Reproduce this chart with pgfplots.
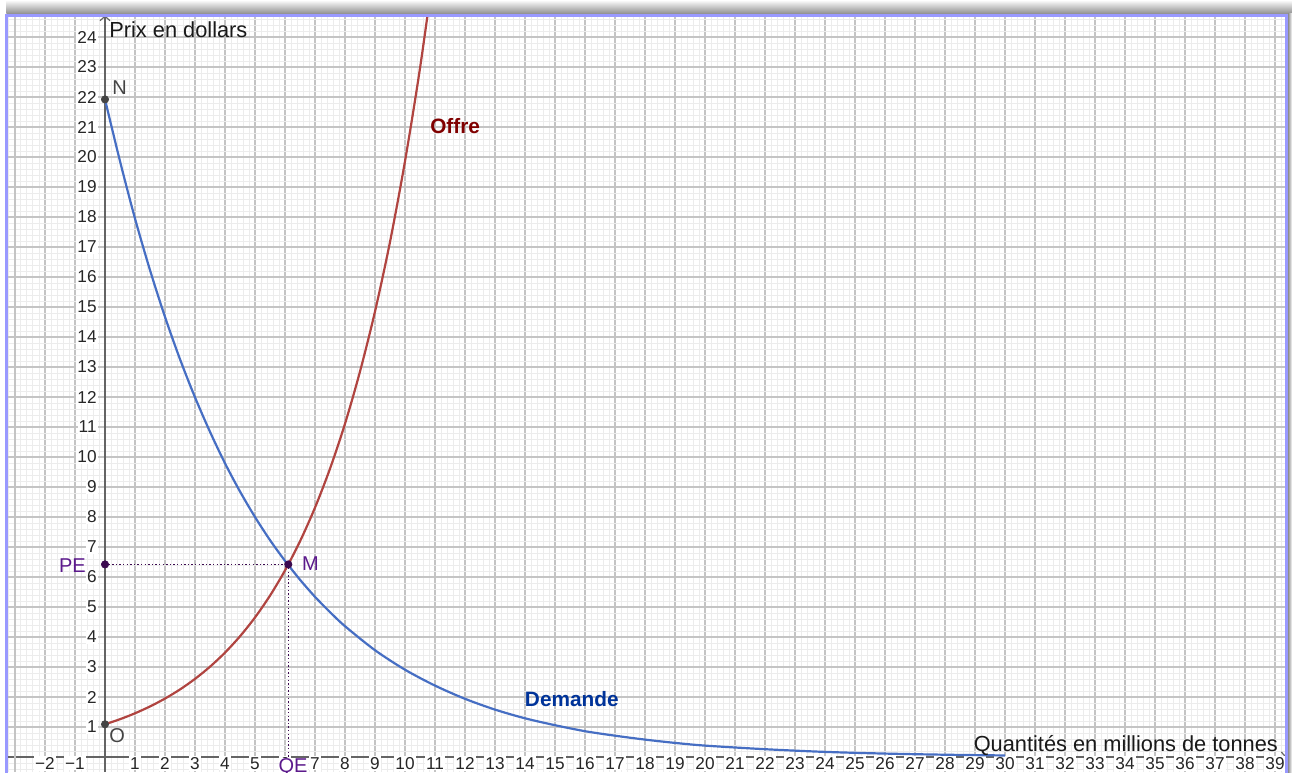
\documentclass[border=0pt]{standalone}
\usepackage{fontspec}
\setmainfont{Liberation Sans}
\usepackage{pgfplots}
\pgfplotsset{compat=1.18}
\usetikzlibrary{arrows.meta}
\definecolor{demandblue}{RGB}{70,110,195}
\definecolor{supplyred}{RGB}{176,68,64}
\definecolor{offretext}{RGB}{128,0,0}
\definecolor{demandetext}{RGB}{0,51,153}
\definecolor{lblpurple}{RGB}{92,26,140}
\definecolor{ptpurple}{RGB}{60,10,80}
\definecolor{ptgray}{RGB}{68,68,68}
\definecolor{axisgray}{RGB}{100,100,100}
\definecolor{majgrid}{RGB}{196,196,196}
\definecolor{mingrid}{RGB}{236,236,236}
\definecolor{frameblue}{RGB}{153,153,255}
\begin{document}
\begin{tikzpicture}
\begin{axis}[
  at={(0,0)}, anchor=south west,
  scale only axis, width=640.1pt, height=378.25pt,
  xmin=-3.29, xmax=39.383, ymin=-0.5, ymax=24.717,
  axis lines=middle,
  axis line style={draw=axisgray, line width=0.6pt},
  every inner x axis line/.append style={-{Straight Barb[length=2.2pt,width=5pt]}},
  every inner y axis line/.append style={-{Straight Barb[length=2.2pt,width=5pt]}},
  xtick={-2,-1,1,2,...,39},
  xticklabels={−2,−1,1,2,3,4,5,6,7,8,9,10,11,12,13,14,15,16,17,18,19,20,21,22,23,24,25,26,27,28,29,30,31,32,33,34,35,36,37,38,39},
  extra x ticks={-3},
  extra x tick labels={},
  extra x tick style={grid=major, xticklabel style={fill=none}},
  ytick={1,2,...,24},
  minor xtick={-3.2,-3,...,39.4},
  minor ytick={-0.4,-0.2,...,24.6},
  grid=both,
  major grid style={draw=majgrid, line width=0.75pt},
  minor grid style={draw=mingrid, line width=0.5pt},
  major tick length=0pt, minor tick length=0pt,
  /pgf/number format/assume math mode=true,
  xticklabel style={font=\fontsize{8.6}{10}\selectfont, text=black!85, fill=white, inner sep=0.6pt, anchor=north, yshift=0.6pt},
  yticklabel style={font=\fontsize{8.6}{10}\selectfont, text=black!85, fill=white, inner sep=0.6pt, anchor=east, xshift=-3.4pt},
  clip=true,
]
% Demand curve
\addplot[demandblue, line width=1.1pt, smooth] coordinates {
(0,21.92) (0.5,19.86) (1,17.95) (1.5,16.23) (2,14.67) (2.5,13.26) (3,11.99) (3.5,10.84)
(4,9.79) (4.5,8.85) (5,8.00) (5.5,7.23) (6,6.54) (6.5,5.91) (7,5.34) (7.5,4.83) (8,4.36)
(9,3.56) (10,2.91) (11,2.38) (12,1.94) (13,1.58) (14,1.29) (15,1.06) (16,0.86) (17,0.71)
(18,0.58) (19,0.47) (20,0.38) (22,0.26) (24,0.17) (26,0.114) (28,0.076) (30,0.051)};
% Supply curve
\addplot[supplyred, line width=1.1pt, smooth] coordinates {
(0,1.09) (0.5,1.260) (1,1.457) (1.5,1.685) (2,1.948) (2.5,2.252) (3,2.604) (3.5,3.010)
(4,3.480) (4.5,4.024) (5,4.652) (5.5,5.379) (6,6.219) (6.5,7.190) (7,8.313) (7.5,9.611)
(8,11.11) (8.5,12.85) (9,14.85) (9.5,17.17) (10,19.86) (10.5,22.96) (11,26.54)};
% Dotted guides
\addplot[ptpurple, line width=0.6pt, dash pattern=on 0.7pt off 1.1pt] coordinates {(0,6.42) (6.11,6.42)};
\addplot[ptpurple, line width=0.6pt, dash pattern=on 0.7pt off 1.1pt] coordinates {(6.11,6.42) (6.11,0)};
% Points
\addplot[only marks, mark=*, mark size=1.8pt, draw=ptgray, fill=ptgray] coordinates {(0,21.92) (0,1.09)};
\addplot[only marks, mark=*, mark size=1.8pt, draw=ptpurple, fill=ptpurple] coordinates {(0,6.42) (6.11,6.42)};
% Labels
\node[anchor=base west, inner sep=0pt, text=ptgray, font=\fontsize{10}{12}\selectfont] at (axis cs:0.23,22.07) {N};
\node[anchor=base west, inner sep=0pt, text=ptgray, font=\fontsize{10}{12}\selectfont] at (axis cs:0.13,0.5) {O};
\node[anchor=base west, inner sep=0pt, text=lblpurple, font=\fontsize{10}{12}\selectfont] at (axis cs:6.56,6.23) {M};
\node[anchor=base east, inner sep=0pt, text=lblpurple, font=\fontsize{10}{12}\selectfont] at (axis cs:-0.63,6.14) {PE};
\node[anchor=north, inner sep=0pt, fill=white, text=lblpurple, font=\fontsize{10}{12}\selectfont] at (axis cs:6.27,-0.03) {QE};
\node[anchor=center, inner sep=0pt, text=offretext, font=\fontsize{10.4}{12}\selectfont\bfseries] at (axis cs:11.67,21.03) {Offre};
\node[anchor=center, inner sep=0pt, text=demandetext, font=\fontsize{10.4}{12}\selectfont\bfseries] at (axis cs:15.56,1.94) {Demande};
\node[anchor=base west, inner sep=0pt, text=black!90, font=\fontsize{10.9}{13}\selectfont] at (axis cs:0.13,24.0) {Prix en dollars};
\node[anchor=base east, inner sep=0pt, text=black!90, font=\fontsize{10.9}{13}\selectfont] at (axis cs:39.11,0.177) {Quantités en millions de tonnes};
\end{axis}
% frame and shadow
\shade[top color=white, bottom color=black!45] (0pt,379pt) rectangle (642.85pt,386pt);
\shade[left color=black!45, right color=white] (640.85pt,-1pt) rectangle (642.85pt,379pt);
\draw[frameblue, line width=1.5pt] (0pt,-2pt) -- (0pt,378.25pt) -- (640.1pt,378.25pt) -- (640.1pt,-2pt);
\pgfresetboundingbox
\path[use as bounding box] (-3.15pt,0pt) rectangle (642.85pt,386pt);
\end{tikzpicture}
\end{document}
